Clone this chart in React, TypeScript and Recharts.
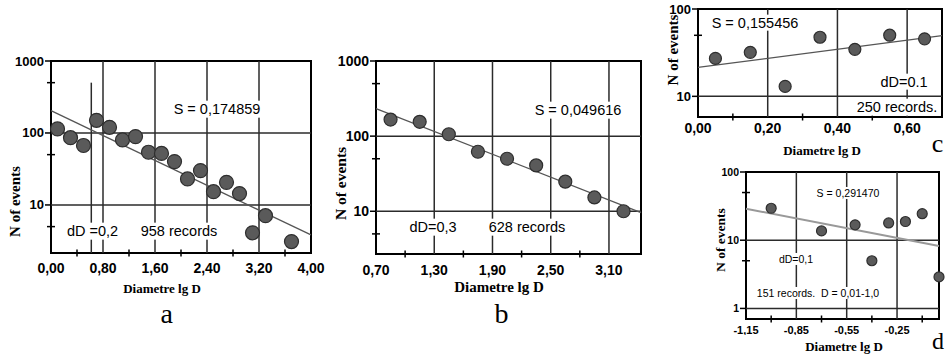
import React from 'react';
import { ScatterChart, Scatter, XAxis, YAxis, ReferenceLine, ReferenceArea } from 'recharts';

// ---------- Panel a ----------
const aX = [0.1, 0.3, 0.5, 0.7, 0.9, 1.1, 1.3, 1.5, 1.7, 1.9, 2.1, 2.3, 2.5, 2.7, 2.9, 3.1, 3.3, 3.7];
const aY = [114, 86, 67, 150, 120, 80, 89, 54, 52, 40, 23, 30, 15.3, 20.6, 14.4, 4.1, 7.1, 3.1];
const aFit = [[0, 204], [4, 3.83]];
const aXMajor = [0, 0.8, 1.6, 2.4, 3.2, 4.0];
const aXMinor = [0.4, 1.2, 2.0, 2.8, 3.6];
const aYMajor = [10, 100, 1000];
const aYMinor = [5, 50, 500];
const aMarker = [[0.62, 500], [0.62, 2.15]];

// ---------- Panel b ----------
const bX = [0.85, 1.15, 1.45, 1.75, 2.05, 2.35, 2.65, 2.95, 3.25];
const bY = [166, 155, 106, 62, 50, 40.8, 24.8, 15.3, 10];
const bFit = [[0.7, 233], [3.43, 9.6]];
const bXMajor = [0.7, 1.3, 1.9, 2.5, 3.1];
const bXMinor = [1.0, 1.6, 2.2, 2.8];
const bYMajor = [10, 100, 1000];
const bYMinor = [5, 50, 500];

// ---------- Panel c ----------
const cX = [0.05, 0.15, 0.25, 0.35, 0.45, 0.55, 0.65];
const cY = [27.2, 31.9, 13.0, 47.5, 34.5, 50.1, 45.5];
const cFit = [[0, 21.4], [0.7, 49.6]];
const cXMajor = [0, 0.2, 0.4, 0.6];
const cXMinor = [0.1, 0.3, 0.5];
const cYMajor = [10, 100];
const cYMinor = [50];

// ---------- Panel d ----------
const dX = [-1.0, -0.7, -0.5, -0.4, -0.3, -0.2, -0.1, 0.0];
const dY = [29.4, 13.7, 16.8, 5.0, 17.9, 18.8, 24.5, 2.9];
const dFit = [[-1.15, 29], [0, 8.2]];
const dXMajor = [-1.15, -0.85, -0.55, -0.25];
const dXMinor = [-1.0, -0.7, -0.4, -0.1];
const dYMajor = [1, 10, 100];
const dYMinor = [5, 50];

const SANS = "'Liberation Sans', Arial, sans-serif";
const SERIF = "'Liberation Serif', 'Times New Roman', serif";

const near = (arr: number[], v: number) => arr.some((a) => Math.abs(a - v) < 1e-6);
const fmtX = (v: number) => v.toFixed(2).replace('.', ',');
const zip = (xs: number[], ys: number[]) => xs.map((x, i) => ({ x, y: ys[i] }));
const seg = (s: number[][]) => s.map(([x, y]) => ({ x, y }));

const makeXTick = (majors: number[], fs: number, dy: number) => (props: any) => {
  const { x, y, payload } = props;
  const v = payload.value;
  if (near(majors, v)) {
    return (
      <text x={x} y={y + dy} textAnchor="middle" dominantBaseline="central" fontSize={fs}
        fontWeight={700} fontFamily={SANS} fill="#000">{fmtX(v)}</text>
    );
  }
  return <line x1={x} x2={x} y1={y - 3.5} y2={y + 3.5} stroke="#000" strokeWidth={1.5} />;
};

const makeYTick = (majors: number[], fs: number) => (props: any) => {
  const { x, y, payload } = props;
  const v = payload.value;
  if (near(majors, v)) {
    return (
      <g>
        <line x1={x - 6} x2={x} y1={y} y2={y} stroke="#000" strokeWidth={1.5} />
        <text x={x - 7} y={y} textAnchor="end" dominantBaseline="central" fontSize={fs}
          fontWeight={700} fontFamily={SANS} fill="#000">{String(v)}</text>
      </g>
    );
  }
  return <line x1={x - 4} x2={x + 4} y1={y} y2={y} stroke="#000" strokeWidth={1.5} />;
};

type PanelProps = {
  left: number; top: number; width: number; height: number;
  mTop: number; mRight: number; yW: number; xH: number;
  xDomain: [number, number]; yDomain: [number, number];
  xMajor: number[]; xMinor: number[]; yMajor: number[]; yMinor: number[];
  xs: number[]; ys: number[]; fit: number[][]; extra?: number[][];
  r: number; xFs: number; yFs: number; xDy: number;
  fitColor: string; fitW: number;
};

function Panel(p: PanelProps) {
  const data = zip(p.xs, p.ys);
  const xGrid = p.xMajor.filter((v) => v > p.xDomain[0] + 1e-6 && v < p.xDomain[1] - 1e-6);
  const yGrid = p.yMajor.filter((v) => v > p.yDomain[0] * 1.0001 && v < p.yDomain[1] * 0.9999);
  const xTicks = [...p.xMajor, ...p.xMinor].sort((a, b) => a - b);
  const yTicks = [...p.yMajor, ...p.yMinor].sort((a, b) => a - b);
  return (
    <div style={{ position: 'absolute', left: p.left, top: p.top }}>
      <ScatterChart width={p.width} height={p.height}
        margin={{ top: p.mTop, right: p.mRight, left: 0, bottom: 0 }}>
        <XAxis type="number" dataKey="x" domain={p.xDomain} ticks={xTicks} interval={0}
          height={p.xH} tickSize={0} tickMargin={0} axisLine={false} tickLine={false}
          tick={makeXTick(p.xMajor, p.xFs, p.xDy)} allowDataOverflow={false} />
        <YAxis type="number" dataKey="y" scale="log" domain={p.yDomain} ticks={yTicks} interval={0}
          width={p.yW} tickSize={0} tickMargin={0} axisLine={false} tickLine={false}
          tick={makeYTick(p.yMajor, p.yFs)} allowDataOverflow={false} />
        {xGrid.map((v) => (
          <ReferenceLine key={'gx' + v} x={v} stroke="#2b2b2b" strokeWidth={1.5} ifOverflow="visible" />
        ))}
        {yGrid.map((v) => (
          <ReferenceLine key={'gy' + v} y={v} stroke="#2b2b2b" strokeWidth={1.5} ifOverflow="visible" />
        ))}
        {p.extra && (
          <ReferenceLine segment={seg(p.extra) as any} stroke="#2b2b2b" strokeWidth={1.5} ifOverflow="visible" />
        )}
        <ReferenceLine segment={seg(p.fit) as any} stroke={p.fitColor} strokeWidth={p.fitW} ifOverflow="visible" />
        <ReferenceArea x1={p.xDomain[0]} x2={p.xDomain[1]} y1={p.yDomain[0]} y2={p.yDomain[1]}
          fill="none" fillOpacity={0} stroke="#000" strokeWidth={2} ifOverflow="visible" />
        <Scatter data={data} isAnimationActive={false}
          shape={(s: any) => (
            <circle cx={s.cx} cy={s.cy} r={p.r} fill="#5a5a5a" stroke="#2e2e2e" strokeWidth={1.2} />
          )} />
      </ScatterChart>
    </div>
  );
}

function Note(props: { x: number; y: number; fs: number; children: React.ReactNode }) {
  return (
    <div style={{
      position: 'absolute', left: props.x, top: props.y, transform: 'translate(-50%, -50%)',
      background: '#fff', padding: '0 2px', whiteSpace: 'nowrap', fontFamily: SANS,
      fontSize: props.fs, lineHeight: 1.15, color: '#000',
    }}>{props.children}</div>
  );
}

export default function App() {
  return (
    <div style={{ position: 'absolute', left: 0, top: 0, width: 947, height: 355, background: '#fff', overflow: 'hidden' }}>
      <Panel left={0} top={0} width={331} height={285} mTop={61} mRight={20} yW={51} xH={32}
        xDomain={[0, 4]} yDomain={[2.15, 1000]} xMajor={aXMajor} xMinor={aXMinor}
        yMajor={aYMajor} yMinor={aYMinor} xs={aX} ys={aY} fit={aFit} extra={aMarker}
        r={7} xFs={14} yFs={13} xDy={15} fitColor="#555" fitW={1.3} />
      <Panel left={330} top={0} width={330} height={286} mTop={61} mRight={19} yW={46} xH={32}
        xDomain={[0.7, 3.43]} yDomain={[2.7, 1000]} xMajor={bXMajor} xMinor={bXMinor}
        yMajor={bYMajor} yMinor={bYMinor} xs={bX} ys={bY} fit={bFit}
        r={6.5} xFs={14} yFs={14} xDy={16} fitColor="#555" fitW={1.3} />
      <Panel left={660} top={0} width={287} height={140} mTop={9} mRight={5} yW={38} xH={23}
        xDomain={[0, 0.7]} yDomain={[5.8, 100]} xMajor={cXMajor} xMinor={cXMinor}
        yMajor={cYMajor} yMinor={cYMinor} xs={cX} ys={cY} fit={cFit}
        r={6} xFs={14} yFs={13} xDy={11} fitColor="#555" fitW={1.3} />
      <Panel left={660} top={140} width={287} height={195} mTop={32} mRight={8} yW={86} xH={16}
        xDomain={[-1.15, 0]} yDomain={[0.7, 100]} xMajor={dXMajor} xMinor={dXMinor}
        yMajor={dYMajor} yMinor={dYMinor} xs={dX} ys={dY} fit={dFit}
        r={5} xFs={11} yFs={10.5} xDy={10.5} fitColor="#999" fitW={2} />

      <svg width={947} height={355} style={{ position: 'absolute', left: 0, top: 0, pointerEvents: 'none' }}>
        <g fontFamily={SERIF} fontWeight={700} fill="#000">
          <text x={162} y={288.5} fontSize={13} textAnchor="middle" dominantBaseline="central">Diametre lg D</text>
          <text x={499} y={287} fontSize={15} textAnchor="middle" dominantBaseline="central">Diametre lg D</text>
          <text x={822} y={150.5} fontSize={13} textAnchor="middle" dominantBaseline="central">Diametre lg D</text>
          <text x={844} y={346.5} fontSize={13} textAnchor="middle" dominantBaseline="central">Diametre lg D</text>
          <text x={15.3} y={201.5} fontSize={15} textAnchor="middle" dominantBaseline="central" transform="rotate(-90 15.3 201.5)">N of events</text>
          <text x={340} y={183.5} fontSize={15.5} textAnchor="middle" dominantBaseline="central" transform="rotate(-90 340 183.5)">N of events</text>
          <text x={673} y={50} fontSize={15} textAnchor="middle" dominantBaseline="central" transform="rotate(-90 673 50)">N of events</text>
          <text x={720.7} y={240} fontSize={13.5} textAnchor="middle" dominantBaseline="central" transform="rotate(-90 720.7 240)">N of events</text>
        </g>
        <g fontFamily={SERIF} fill="#000">
          <text x={166.7} y={323} fontSize={28} textAnchor="middle">a</text>
          <text x={501.5} y={323} fontSize={28} textAnchor="middle">b</text>
          <text x={937.5} y={152} fontSize={26} textAnchor="middle">c</text>
          <text x={938} y={349} fontSize={24} textAnchor="middle">d</text>
        </g>
      </svg>

      <Note x={217} y={109} fs={14.5}>S = 0,174859</Note>
      <Note x={92.5} y={231} fs={14.5}>dD =0,2</Note>
      <Note x={179} y={231} fs={14.5}>958 records</Note>

      <Note x={578} y={110} fs={14.5}>S = 0,049616</Note>
      <Note x={433} y={227} fs={14.5}>dD=0,3</Note>
      <Note x={527} y={227} fs={14.5}>628 records</Note>

      <Note x={755} y={22.7} fs={14.5}>S = 0,155456</Note>
      <Note x={904} y={81.7} fs={14.5}>dD=0.1</Note>
      <Note x={897} y={107} fs={14.5}>250 records.</Note>

      <Note x={848} y={193.3} fs={10.5}>S = 0,291470</Note>
      <Note x={796} y={259} fs={10.5}>dD=0,1</Note>
      <Note x={818} y={293.3} fs={10.5}>151 records.&nbsp;&nbsp;D = 0,01-1,0</Note>
    </div>
  );
}
